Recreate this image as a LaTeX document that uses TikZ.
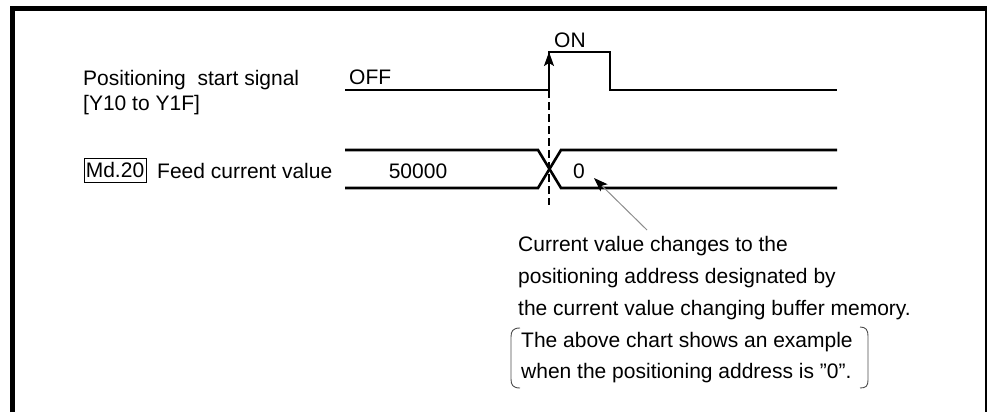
\documentclass[tikz,border=0pt]{standalone}
\usepackage{fontspec}
\setmainfont{Liberation Sans}
\usetikzlibrary{arrows.meta}
\begin{document}
\begin{tikzpicture}[x=1pt,y=-1pt,
  lbl/.style={font=\fontsize{21}{25}\selectfont, inner sep=0pt, anchor=base west},
  sig/.style={line width=2.6pt, line join=miter},
  frm/.style={line width=5pt},
  guide/.style={line width=1.3pt, dash pattern=on 8pt off 4pt},
  brk/.style={line width=0.9pt, black!70},
  leader/.style={line width=1pt, black!45, -{Stealth[black, length=14pt, width=10pt, inset=3pt]}},
  upar/.style={line width=1.4pt, -{Stealth[length=14pt, width=10pt, inset=3pt]}}]
\useasboundingbox (0,0) rectangle (987,412);

% frame
\coordinate (fbl) at (12.5,412);
\coordinate (ftl) at (12.5,8.5);
\coordinate (ftr) at (986,8.5);
\coordinate (fbr) at (986,412);
\draw[frm] (fbl) -- (ftl) -- (987,8.5);
\draw[line width=1.2pt] (ftr) -- (fbr);

% signal 1
\coordinate (s1a) at (345,90);
\coordinate (s1b) at (549,90);
\coordinate (s1c) at (549,52);
\coordinate (s1d) at (610,52);
\coordinate (s1e) at (610,90);
\coordinate (s1f) at (837,90);
\draw[sig] (s1a) -- (s1b) -- (s1c) -- (s1d) -- (s1e) -- (s1f);
\draw[upar] (s1b) -- (s1c);

% signal 2
\coordinate (m1) at (345,150);
\coordinate (m2) at (538,150);
\coordinate (m3) at (561,150);
\coordinate (m4) at (837,150);
\coordinate (n1) at (345,188);
\coordinate (n2) at (538,188);
\coordinate (n3) at (561,188);
\coordinate (n4) at (837,188);
\draw[sig] (m1) -- (m2) -- (n3) -- (n4);
\draw[sig] (n1) -- (n2) -- (m3) -- (m4);

% dashed guide
\coordinate (d1) at (549,205);
\draw[guide] (s1b) -- (d1);

% labels
\node[lbl] (pos) at (83,85) {Positioning\ \ start signal};
\node[lbl] (yr) at (83,110) {[Y10 to Y1F]};
\node[lbl] (off) at (349,84) {OFF};
\node[lbl] (on) at (554,48) {ON};
\node[draw, line width=1pt, minimum width=62, minimum height=24, inner sep=0pt,
      font=\fontsize{21}{25}\selectfont] (md) at (115,170) {Md.20};
\node[lbl] (feed) at (157,178) {Feed current value};
\node[lbl, anchor=base] (v1) at (418,178) {50000};
\node[lbl, anchor=base] (v2) at (579,178) {0};

% note
\node[lbl] (t1) at (518,251) {Current value changes to the};
\node[lbl] (t2) at (518,283) {positioning address designated by};
\node[lbl] (t3) at (518,315) {the current value changing buffer memory.};
\node[lbl] (t4) at (521,347) {The above chart shows an example};
\node[lbl] (t5) at (521,378) {when the positioning address is \symbol{34}0\symbol{34}.};

% leader
\coordinate (lend) at (647,230);
\coordinate (ltip) at (594,178);
\draw[leader] (lend) -- (ltip);

% brackets
\draw[brk] (520,328) .. controls (513,328) and (511,331) .. (511,337) -- (511,379) .. controls (511,385) and (513,388) .. (520,388);
\draw[brk] (860,327) .. controls (866,327) and (868,330) .. (868,336) -- (868,380) .. controls (868,386) and (866,388) .. (860,388);
\end{tikzpicture}
\end{document}
